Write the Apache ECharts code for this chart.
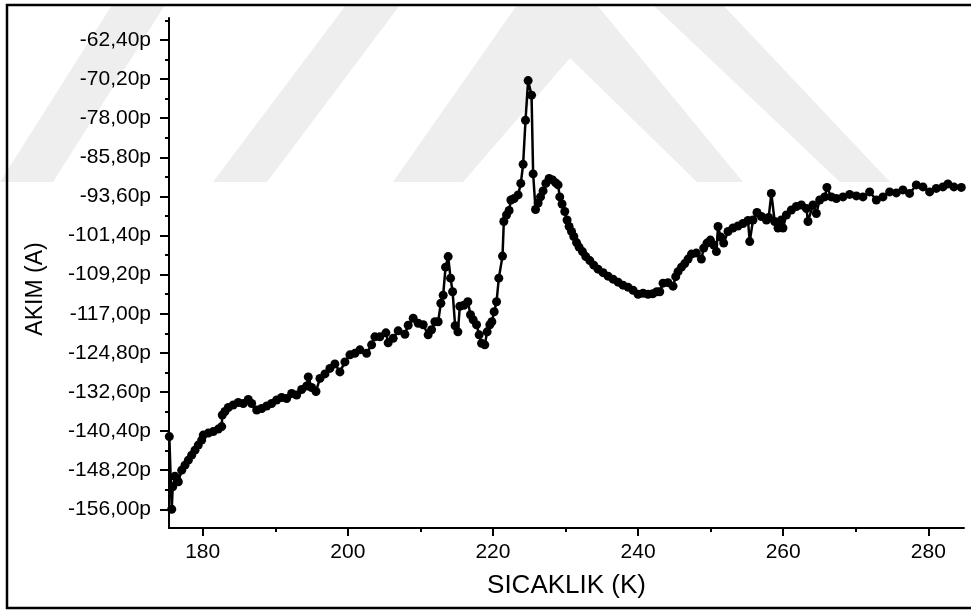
<!DOCTYPE html>
<html>
<head>
<meta charset="utf-8">
<script src="https://cdn.jsdelivr.net/npm/echarts@6/dist/echarts.min.js"></script>
<style>
  html, body { margin: 0; padding: 0; background: #fff; }
  #chart { width: 971px; height: 610px; }
</style>
</head>
<body>
<div id="chart"></div>
<script>
// Temperature sweep (K) and measured current (pA)
const temperature = [
  175.40, 175.73, 175.87, 176.18, 176.64, 177.11, 177.56, 178.02, 178.48, 178.94,
  179.39, 179.86, 180.08, 180.77, 181.46, 182.15, 182.62, 182.70, 183.07, 183.53,
  184.21, 184.90, 185.59, 186.28, 186.75, 187.44, 188.13, 188.82, 189.50, 190.19,
  190.88, 191.57, 192.26, 192.95, 193.64, 194.33, 194.55, 195.01, 195.61, 196.16,
  196.85, 197.53, 198.22, 198.91, 199.60, 200.29, 200.98, 201.67, 202.59, 203.28,
  203.73, 204.42, 205.25, 205.56, 206.25, 206.94, 207.87, 208.32, 209.01, 209.70,
  210.39, 211.07, 211.54, 212.00, 212.45, 212.82, 213.14, 213.47, 213.83, 214.16,
  214.44, 214.79, 215.17, 215.44, 215.99, 216.54, 216.91, 217.27, 217.74, 218.10,
  218.43, 218.88, 219.20, 219.57, 219.85, 220.17, 220.50, 220.81, 221.32, 221.50,
  221.87, 222.23, 222.47, 222.92, 223.47, 223.84, 224.16, 224.49, 224.85, 225.32,
  225.54, 225.87, 226.23, 226.56, 226.91, 227.29, 227.74, 228.21, 228.66, 228.98,
  229.21, 229.53, 229.90, 230.22, 230.50, 230.83, 231.14, 231.52, 231.87, 232.34,
  232.80, 233.35, 233.90, 234.49, 235.18, 235.87, 236.56, 237.25, 237.93, 238.62,
  239.31, 240.00, 240.69, 241.38, 242.02, 242.58, 242.99, 243.44, 244.13, 244.82,
  245.19, 245.51, 245.98, 246.43, 246.89, 247.36, 248.04, 248.73, 249.05, 249.50,
  249.97, 250.43, 250.80, 251.02, 251.39, 251.80, 252.40, 253.08, 253.77, 254.46,
  255.15, 255.39, 255.84, 256.39, 257.00, 257.69, 258.00, 258.37, 258.83, 259.29,
  259.75, 259.97, 260.44, 261.13, 261.82, 262.51, 263.20, 263.42, 264.11, 264.57,
  265.03, 265.72, 266.03, 266.64, 267.33, 268.24, 269.16, 270.08, 270.99, 271.91,
  272.84, 273.75, 274.67, 275.59, 276.50, 277.42, 278.35, 279.26, 280.18, 281.10,
  282.01, 282.70, 283.53, 284.55
];
const current = [
  -141.5, -156.0, -151.5, -149.4, -150.5, -148.2, -147.2, -146.2, -145.2, -144.2,
  -143.2, -142.2, -141.2, -140.8, -140.5, -140.0, -139.5, -137.2, -136.5, -135.7,
  -135.2, -134.7, -134.9, -134.1, -134.9, -136.2, -135.9, -135.4, -134.9, -134.2,
  -133.7, -133.9, -132.9, -133.2, -132.1, -131.4, -129.6, -131.7, -132.5, -129.9,
  -129.0, -127.9, -127.0, -128.6, -126.6, -125.2, -124.9, -124.2, -124.9, -123.2,
  -121.6, -121.6, -120.8, -122.8, -121.9, -120.4, -121.1, -119.3, -117.9, -118.9,
  -119.2, -121.2, -120.2, -118.6, -118.6, -114.9, -113.3, -107.7, -105.6, -109.9,
  -112.6, -119.4, -120.6, -115.5, -115.3, -114.6, -117.2, -118.2, -119.2, -121.2,
  -122.9, -123.2, -120.6, -119.2, -118.6, -116.6, -114.6, -109.9, -105.5, -98.6,
  -97.3, -96.4, -94.3, -94.0, -93.3, -91.0, -87.2, -78.4, -70.5, -73.4,
  -89.1, -96.2, -94.9, -93.7, -92.5, -91.0, -90.0, -90.3, -90.9, -91.3,
  -93.7, -95.1, -96.6, -98.3, -99.6, -100.6, -101.6, -102.8, -103.7, -104.6,
  -105.6, -106.4, -107.3, -108.1, -108.8, -109.5, -110.1, -110.7, -111.3, -111.7,
  -112.3, -113.1, -112.9, -113.1, -113.0, -112.6, -112.6, -110.9, -110.8, -111.5,
  -109.6, -108.6, -107.7, -107.0, -106.1, -105.1, -104.9, -106.1, -103.9, -102.9,
  -102.3, -103.3, -104.6, -99.6, -101.7, -102.9, -100.6, -99.9, -99.5, -99.0,
  -98.4, -102.6, -98.3, -96.8, -97.6, -98.3, -97.8, -93.0, -98.6, -99.9,
  -98.3, -99.9, -97.3, -96.3, -95.6, -95.3, -96.0, -98.6, -95.3, -97.0,
  -94.3, -93.7, -91.8, -93.7, -94.0, -93.7, -93.2, -93.5, -93.7, -92.7,
  -94.3, -93.7, -92.7, -92.9, -92.3, -93.0, -91.3, -91.7, -92.7, -92.0,
  -91.7, -91.1, -91.7, -91.8
];

// Axis ticks
const xMajorTicks = [180, 200, 220, 240, 260, 280];
const xMinorTicks = [190, 210, 230, 250, 270];
const yMajorTicks = [-156.0, -148.2, -140.4, -132.6, -124.8, -117.0, -109.2, -101.4, -93.6, -85.8, -78.0, -70.2, -62.4];
const yMinorTicks = [-152.1, -144.3, -136.5, -128.7, -120.9, -113.1, -105.3, -97.5, -89.7, -81.9, -74.1, -66.3, -58.5];

const xRange = [175.356, 284.92];
const yRange = [-159.73, -58.01];

const FONT = "'Liberation Sans', Arial, sans-serif";

const chart = echarts.init(document.getElementById('chart'), null, { renderer: 'canvas' });

const points = temperature.map((t, i) => [t, current[i]]);

function fmtCurrent(v) {
  return v.toFixed(2).replace('.', ',') + 'p';
}

const axisLineStyle = { color: '#000', width: 2 };

chart.setOption({
  animation: false,
  backgroundColor: '#fff',
  grid: { left: 169, right: 7, top: 18, bottom: 82, containLabel: false },
  xAxis: [
    {
      type: 'value', min: xRange[0], max: xRange[1], position: 'bottom',
      name: 'SICAKLIK (K)', nameLocation: 'middle', nameGap: 45,
      nameTextStyle: { color: '#000', fontFamily: FONT, fontSize: 26 },
      axisLine: { show: true, lineStyle: axisLineStyle },
      axisTick: { show: true, inside: false, length: 8, customValues: xMajorTicks, lineStyle: { color: '#000', width: 2 } },
      axisLabel: { show: true, customValues: xMajorTicks, margin: 14, color: '#000', fontFamily: FONT, fontSize: 21 },
      splitLine: { show: false }
    },
    {
      type: 'value', min: xRange[0], max: xRange[1], position: 'bottom',
      axisLine: { show: false },
      axisTick: { show: true, inside: false, length: 4, customValues: xMinorTicks, lineStyle: { color: '#000', width: 2 } },
      axisLabel: { show: false },
      splitLine: { show: false }
    }
  ],
  yAxis: [
    {
      type: 'value', min: yRange[0], max: yRange[1], position: 'left',
      axisLine: { show: true, lineStyle: axisLineStyle },
      axisTick: { show: true, inside: false, length: 9, customValues: yMajorTicks, lineStyle: { color: '#000', width: 2 } },
      axisLabel: { show: true, customValues: yMajorTicks, margin: 18, color: '#000', fontFamily: FONT, fontSize: 21, formatter: fmtCurrent },
      splitLine: { show: false }
    },
    {
      type: 'value', min: yRange[0], max: yRange[1], position: 'left',
      axisLine: { show: false },
      axisTick: { show: true, inside: false, length: 4, customValues: yMinorTicks, lineStyle: { color: '#000', width: 2 } },
      axisLabel: { show: false },
      splitLine: { show: false }
    }
  ],
  graphic: [
    // faint background emblem
    { type: 'polygon', z: -10, silent: true, shape: { points: [[0,182],[53,182],[165,5],[112,5]] }, style: { fill: '#eeeeee' } },
    { type: 'polygon', z: -10, silent: true, shape: { points: [[213,182],[267,182],[400,5],[346,5]] }, style: { fill: '#eeeeee' } },
    { type: 'polygon', z: -10, silent: true, shape: { points: [[393,182],[517,5],[597,5],[743,182],[697,182],[570,58],[463,182]] }, style: { fill: '#eeeeee' } },
    { type: 'polygon', z: -10, silent: true, shape: { points: [[653,5],[723,5],[890,182],[840,182]] }, style: { fill: '#eeeeee' } },
    // y-axis title
    {
      type: 'text', z: 10, rotation: Math.PI / 2,
      x: 36, y: 289,
      style: { text: 'AKIM (A)', fill: '#000', font: '23px ' + FONT, textAlign: 'center', textVerticalAlign: 'middle' }
    },
    // outer frame
    { type: 'rect', z: 10, silent: true, shape: { x: 7, y: 5, width: 975, height: 603 }, style: { fill: 'none', stroke: '#000', lineWidth: 2.5 } }
  ],
  series: [
    {
      type: 'line',
      xAxisIndex: 0, yAxisIndex: 0,
      data: points,
      symbol: 'circle', symbolSize: 9, showAllSymbol: true,
      itemStyle: { color: '#000', borderWidth: 0 },
      lineStyle: { color: '#000', width: 2.5 },
      emphasis: { disabled: true },
      clip: false,
      z: 5
    }
  ]
});
</script>
</body>
</html>
